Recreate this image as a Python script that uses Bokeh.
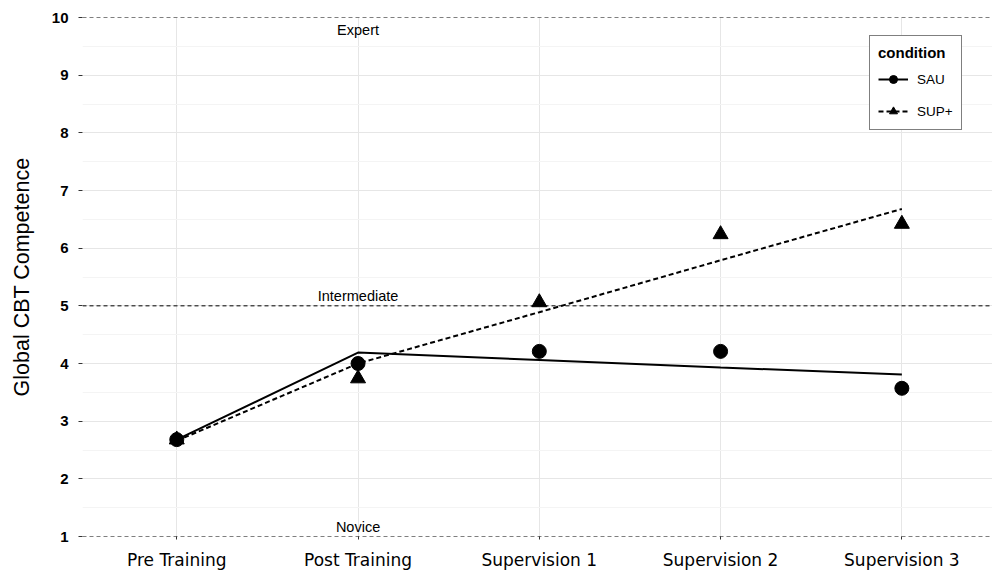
from bokeh.plotting import figure
from bokeh.models import Span, FixedTicker, SingleIntervalTicker, Legend, LegendItem
from bokeh.core.properties import value
from bokeh.embed import file_html
from bokeh.resources import INLINE

categories = ["Pre Training", "Post Training", "Supervision 1", "Supervision 2", "Supervision 3"]
sau_means = [2.68, 4.00, 4.21, 4.21, 3.57]
sup_means = [2.68, 3.74, 5.06, 6.24, 6.42]
sau_fit = [2.68, 4.19, 4.06, 3.93, 3.81]
sup_fit = [2.66, 4.00, 4.89, 5.79, 6.68]
level_values = [10, 5, 1]
level_names = ["Expert", "Intermediate", "Novice"]

xs = list(range(len(categories)))

p = figure(width=992, height=572, x_range=(-0.52, 4.5), y_range=(1, 10),
           output_backend="svg", toolbar_location=None,
           min_border_left=82, min_border_right=0, min_border_top=17, min_border_bottom=34)
p.outline_line_color = None
p.background_fill_color = "white"

# axes
p.xaxis.ticker = FixedTicker(ticks=xs)
p.xaxis.major_label_overrides = {i: c for i, c in enumerate(categories)}
p.xaxis.axis_line_color = None
p.xaxis.major_tick_out = 3
p.xaxis.major_tick_in = 0
p.xaxis.major_tick_line_color = "#333333"
p.xaxis.minor_tick_line_color = None
p.xaxis.major_label_standoff = 10
p.xaxis.major_label_text_font = "DejaVu Sans"
p.xaxis.major_label_text_font_size = "17px"
p.xaxis.major_label_text_color = "black"

p.yaxis.ticker = SingleIntervalTicker(interval=1, num_minor_ticks=2)
p.yaxis.axis_line_color = None
p.yaxis.major_tick_out = 4
p.yaxis.major_tick_in = 0
p.yaxis.major_tick_line_color = "#333333"
p.yaxis.minor_tick_line_color = None
p.yaxis.major_label_standoff = 10
p.yaxis.major_label_text_font = "Liberation Sans"
p.yaxis.major_label_text_font_size = "15px"
p.yaxis.major_label_text_font_style = "bold"
p.yaxis.major_label_text_color = "black"
p.yaxis.axis_label = "Global CBT Competence"
p.yaxis.axis_label_text_font = "Liberation Sans"
p.yaxis.axis_label_text_font_size = "21.5px"
p.yaxis.axis_label_text_font_style = "normal"
p.yaxis.axis_label_text_color = "black"
p.yaxis.axis_label_standoff = 15

# grids
p.xgrid.ticker = FixedTicker(ticks=xs)
p.xgrid.grid_line_color = "#e6e6e6"
p.ygrid.grid_line_color = "#e6e6e6"
p.ygrid.minor_grid_line_color = "#f4f4f4"

# reference levels
for v in level_values:
    p.add_layout(Span(location=v, dimension="width", line_color="black",
                      line_width=1, line_dash="4 3"))

p.text(x=[1], y=[level_values[0]], text=[level_names[0]], text_align="center",
       text_baseline="top", y_offset=4, text_font=value("Liberation Sans"),
       text_font_size="14.5px", text_color="black")
p.text(x=[1, 1], y=level_values[1:], text=level_names[1:], text_align="center",
       text_baseline="bottom", y_offset=-2, text_font=value("Liberation Sans"),
       text_font_size="14.5px", text_color="black")

# fit lines
l_sau = p.line(xs, sau_fit, line_color="black", line_width=2)
l_sup = p.line(xs, sup_fit, line_color="black", line_width=2, line_dash="5 3")

# means
m_sup = p.scatter(xs, sup_means, marker="triangle", size=15, fill_color="black", line_color="black")
m_sau = p.scatter(xs, sau_means, marker="circle", size=14, fill_color="black", line_color="black")

legend = Legend(items=[LegendItem(label="SAU", renderers=[l_sau, m_sau]),
                       LegendItem(label="SUP+", renderers=[l_sup, m_sup])],
                title="condition", location=(787, 406))
legend.title_text_font = "Liberation Sans"
legend.title_text_font_style = "bold"
legend.title_text_font_size = "15px"
legend.title_text_color = "black"
legend.title_standoff = 8
legend.label_text_font = "Liberation Sans"
legend.label_text_font_size = "13.5px"
legend.label_text_color = "black"
legend.label_standoff = 9
legend.border_line_color = "black"
legend.border_line_width = 1
legend.background_fill_alpha = 1
legend.glyph_width = 30
legend.glyph_height = 20
legend.label_height = 20
legend.spacing = 12
legend.padding = 8
legend.margin = 0
p.add_layout(legend, "center")

open("out.html", "w").write(file_html(p, INLINE))
